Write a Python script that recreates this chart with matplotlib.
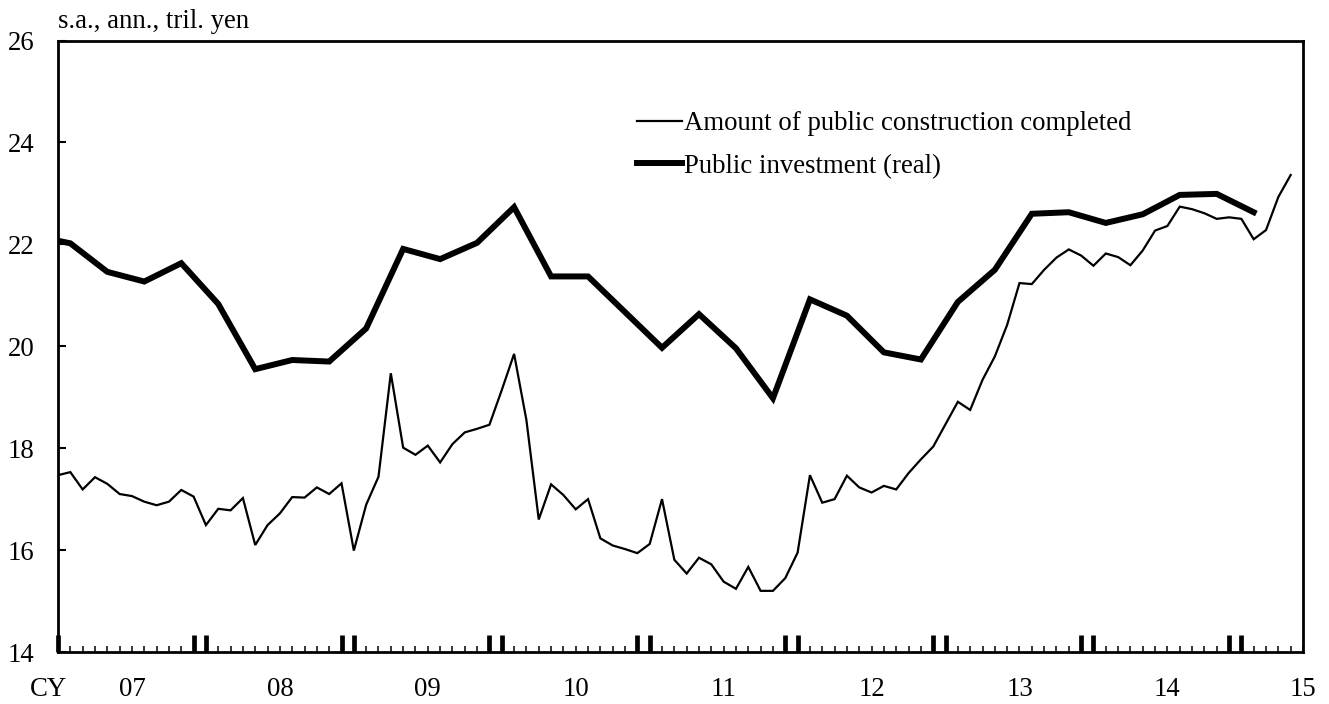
import matplotlib
matplotlib.use('Agg')
import matplotlib.pyplot as plt
import numpy as np

plt.rcParams['font.family'] = ['Liberation Serif', 'DejaVu Serif']

# ---- data (month index 0 = Jan 2007) ----
construction = [17.47, 17.53, 17.19, 17.43, 17.30, 17.10, 17.06, 16.95, 16.88, 16.95,
                17.18, 17.05, 16.49, 16.81, 16.78, 17.02, 16.10, 16.49, 16.72, 17.04,
                17.03, 17.23, 17.10, 17.31, 15.99, 16.89, 17.44, 19.47, 18.01, 17.87,
                18.05, 17.72, 18.08, 18.31, 18.38, 18.46, 19.14, 19.85, 18.55, 16.60,
                17.29, 17.08, 16.80, 17.00, 16.23, 16.09, 16.02, 15.94, 16.12, 17.00,
                15.81, 15.54, 15.85, 15.72, 15.38, 15.24, 15.67, 15.20, 15.20, 15.45,
                15.95, 17.47, 16.93, 17.00, 17.46, 17.23, 17.13, 17.26, 17.19, 17.51,
                17.78, 18.03, 18.47, 18.91, 18.75, 19.34, 19.80, 20.42, 21.24, 21.22,
                21.50, 21.74, 21.90, 21.78, 21.58, 21.82, 21.75, 21.59, 21.88, 22.27,
                22.36, 22.74, 22.69, 22.61, 22.50, 22.53, 22.50, 22.10, 22.28, 22.93,
                23.36]
construction_months = np.arange(len(construction))

# quarterly, plotted at middle month of quarter (Q4 2006 .. Q1 2015)
investment = [22.17,
              22.02, 21.46, 21.27, 21.63,
              20.83, 19.55, 19.73, 19.70,
              20.35, 21.91, 21.71, 22.03,
              22.73, 21.37, 21.37, 20.67,
              19.97, 20.63, 19.96, 18.98,
              20.92, 20.60, 19.88, 19.74,
              20.87, 21.50, 22.60, 22.63,
              22.42, 22.59, 22.97, 22.99,
              22.63]
investment_months = np.arange(len(investment)) * 3 - 2

year_labels = ['07', '08', '09', '10', '11', '12', '13', '14', '15']
year_label_pos = [6, 18, 30, 42, 54, 66, 78, 90, 101]
y_ticks = [14, 16, 18, 20, 22, 24, 26]

series_names = ['Amount of public construction completed', 'Public investment (real)']

# ---- figure ----
fig = plt.figure(figsize=(13.29, 7.04), dpi=100)
ax = fig.add_axes([58 / 1329, 1 - 652 / 704, (1303 - 58) / 1329, (652 - 40.5) / 704])

ax.plot(construction_months, construction, color='black', lw=1.6,
        solid_joinstyle='miter', label=series_names[0])
ax.plot(investment_months, investment, color='black', lw=4.3,
        solid_joinstyle='miter', label=series_names[1])

ax.set_xlim(0, 101)
ax.set_ylim(14, 26)
ax.set_yticks(y_ticks)
ax.set_yticklabels([str(v) for v in y_ticks])

fs = 19.3
ax.tick_params(axis='y', direction='in', length=6, width=1.5, pad=17, labelsize=fs)

major = [0]
for k in range(1, 9):
    major += [12 * k - 1, 12 * k]
major = [m for m in major if m <= 101]
ax.set_xticks(major)
ax.set_xticklabels([''] * len(major))
ax.set_xticks(np.arange(0, 102), minor=True)
ax.tick_params(axis='x', which='major', direction='in', length=12, width=3.4)
ax.tick_params(axis='x', which='minor', direction='in', length=4.5, width=1.1)

for s in ax.spines.values():
    s.set_linewidth(2)

trans = matplotlib.transforms.blended_transform_factory(ax.transData, ax.transAxes)
for lab, pos in zip(year_labels, year_label_pos):
    ax.text(pos, -0.062, lab, transform=trans, ha='center', va='center', fontsize=fs)
ax.text(-0.8, -0.062, 'CY', transform=trans, ha='center', va='center', fontsize=fs)

fig.text(58 / 1329, 1 - 21 / 704, 's.a., ann., tril. yen', ha='left', va='center', fontsize=fs)

leg = ax.legend(loc='upper left', bbox_to_anchor=(0.465, 0.884), frameon=False,
                fontsize=fs, handlelength=1.7, handletextpad=0.07, labelspacing=0.65,
                borderpad=0, borderaxespad=0)

fig.savefig('out.png', dpi=100)
